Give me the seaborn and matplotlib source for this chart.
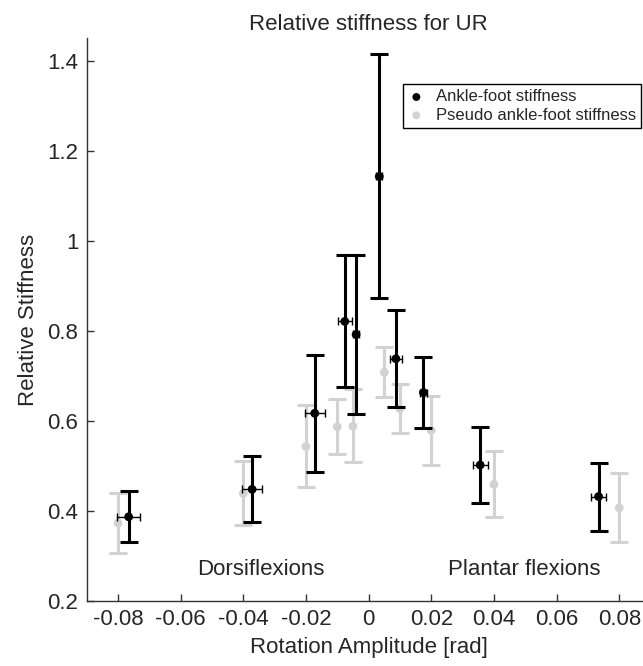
import pandas as pd
import seaborn as sns
import matplotlib.pyplot as plt

# Ankle-foot stiffness (black), mit x- und y-Fehlerbalken
ankle_x = [-0.0766, -0.0372, -0.0172, -0.0076, -0.0040, 0.0034, 0.0087, 0.0175, 0.0356, 0.0734]
ankle_y = [0.387, 0.448, 0.617, 0.821, 0.792, 1.143, 0.738, 0.663, 0.502, 0.432]
ankle_lo = [0.330, 0.375, 0.487, 0.675, 0.615, 0.873, 0.630, 0.584, 0.418, 0.356]
ankle_hi = [0.445, 0.521, 0.747, 0.969, 0.969, 1.416, 0.847, 0.742, 0.587, 0.506]
ankle_xerr = [0.0036, 0.0033, 0.0032, 0.0022, 0.0010, 0.0010, 0.0019, 0.0010, 0.0024, 0.0025]

# Pseudo ankle-foot stiffness (grau), nur y-Fehlerbalken
pseudo_x = [-0.080, -0.040, -0.020, -0.010, -0.005, 0.005, 0.010, 0.020, 0.040, 0.080]
pseudo_y = [0.373, 0.439, 0.543, 0.587, 0.588, 0.708, 0.627, 0.579, 0.459, 0.407]
pseudo_lo = [0.307, 0.369, 0.453, 0.526, 0.508, 0.654, 0.573, 0.503, 0.386, 0.331]
pseudo_hi = [0.439, 0.510, 0.636, 0.648, 0.670, 0.764, 0.682, 0.656, 0.533, 0.484]

x_ticks = [-0.08, -0.06, -0.04, -0.02, 0, 0.02, 0.04, 0.06, 0.08]
x_tick_labels = ['-0.08', '-0.06', '-0.04', '-0.02', '0', '0.02', '0.04', '0.06', '0.08']
y_ticks = [0.2, 0.4, 0.6, 0.8, 1.0, 1.2, 1.4]
y_tick_labels = ['0.2', '0.4', '0.6', '0.8', '1', '1.2', '1.4']

ankle = pd.DataFrame({'x': ankle_x, 'y': ankle_y, 'lo': ankle_lo, 'hi': ankle_hi, 'xerr': ankle_xerr})
pseudo = pd.DataFrame({'x': pseudo_x, 'y': pseudo_y, 'lo': pseudo_lo, 'hi': pseudo_hi})

sns.set_style('white')
plt.rcParams['font.family'] = ['Liberation Sans', 'DejaVu Sans']

grey = '#d2d2d2'
fs = 16

fig = plt.figure(figsize=(6.43, 6.66), dpi=100)
ax = fig.add_axes([0.1348, 0.0976, 0.877, 0.845])

# Fehlerbalken (grau zuerst, schwarz darüber)
ax.errorbar(pseudo['x'], pseudo['y'],
            yerr=[pseudo['y'] - pseudo['lo'], pseudo['hi'] - pseudo['y']],
            fmt='none', ecolor=grey, elinewidth=2.2, capsize=6.5, capthick=2.2, zorder=1)
ax.errorbar(ankle['x'], ankle['y'],
            yerr=[ankle['y'] - ankle['lo'], ankle['hi'] - ankle['y']],
            fmt='none', ecolor='black', elinewidth=2.2, capsize=6.5, capthick=2.2, zorder=3)
ax.errorbar(ankle['x'], ankle['y'], xerr=ankle['xerr'],
            fmt='none', ecolor='black', elinewidth=1.0, capsize=3, capthick=1.0, zorder=3)

sns.scatterplot(data=pseudo, x='x', y='y', color=grey, s=40, edgecolor='none',
                label='Pseudo ankle-foot stiffness', ax=ax, zorder=2)
sns.scatterplot(data=ankle, x='x', y='y', color='black', s=40, edgecolor='none',
                label='Ankle-foot stiffness', ax=ax, zorder=4)

ax.set_xlim(-0.09, 0.09)
ax.set_ylim(0.2, 1.45)
ax.set_xticks(x_ticks)
ax.set_xticklabels(x_tick_labels)
ax.set_yticks(y_ticks)
ax.set_yticklabels(y_tick_labels)
ax.tick_params(direction='in', length=5, width=1, labelsize=fs, pad=6,
               bottom=True, left=True, top=False, right=False, color='#333333')
for side in ['top', 'right']:
    ax.spines[side].set_visible(False)
for side in ['left', 'bottom']:
    ax.spines[side].set_color('#333333')
    ax.spines[side].set_linewidth(1.0)

ax.set_xlabel('Rotation Amplitude [rad]', fontsize=fs, labelpad=5)
ax.set_ylabel('Relative Stiffness', fontsize=fs, labelpad=6)
ax.set_title('Relative stiffness for UR', fontsize=fs, pad=6)

ax.text(-0.0343, 0.269, 'Dorsiflexions', fontsize=fs, ha='center', va='center')
ax.text(0.0497, 0.269, 'Plantar flexions', fontsize=fs, ha='center', va='center')

handles, labels = ax.get_legend_handles_labels()
order = [labels.index('Ankle-foot stiffness'), labels.index('Pseudo ankle-foot stiffness')]
leg = ax.legend([handles[i] for i in order], [labels[i] for i in order],
                loc='upper left', bbox_to_anchor=(0.561, 0.918), fontsize=12,
                frameon=True, fancybox=False, framealpha=1, edgecolor='black',
                handlelength=1.0, handletextpad=0.7, borderpad=0.3, labelspacing=0.2,
                borderaxespad=0, markerscale=0.9)
leg.get_frame().set_linewidth(1.0)

fig.savefig('out.png', dpi=100)
